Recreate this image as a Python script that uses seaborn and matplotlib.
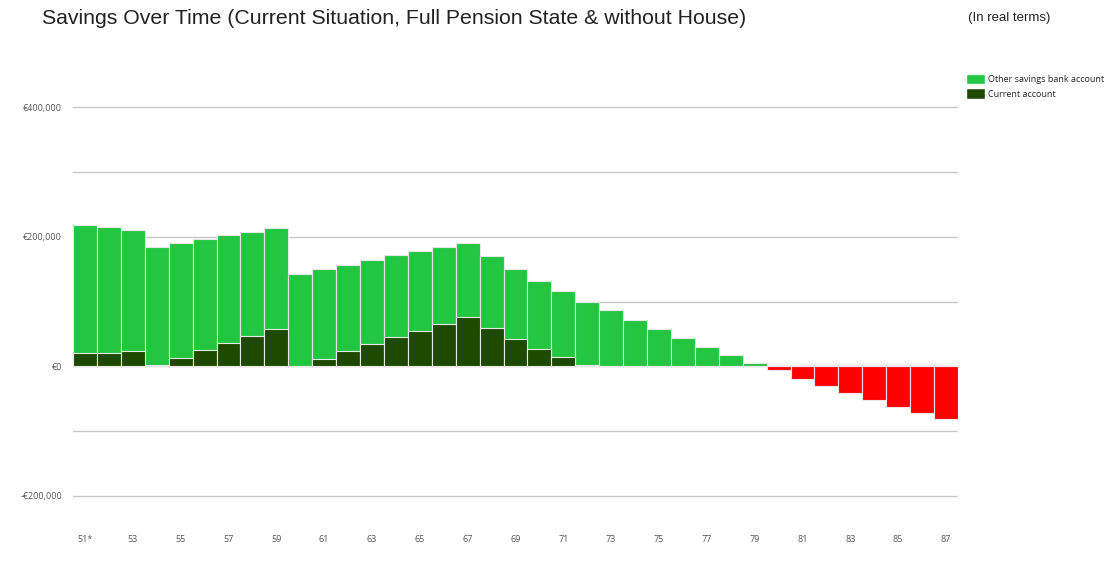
import matplotlib
matplotlib.use("Agg")
import matplotlib.pyplot as plt
import seaborn as sns
import pandas as pd
from matplotlib.patches import Patch

# ages shown on the x axis (51* = current age)
ages = list(range(51, 88))
age_labels = ["51*"] + [str(a) for a in ages[1:]]

# total savings per year (euro)
total_savings = [
    219000, 215000, 211000, 185000, 191000, 196000, 203000, 208000, 214000, 142500,
    150000, 157000, 164500, 172000, 178500, 184000, 191000, 171000, 150500, 132000,
    116000, 100000, 86500, 72000, 57500, 43000, 30000, 17000, 4500, -6500,
    -19000, -30000, -41000, -52000, -63000, -72500, -82000,
]
# current account part of the savings
current_account = [
    20000, 20000, 23000, 2000, 13000, 25000, 36000, 47000, 57500, 0,
    11500, 23000, 34500, 45000, 55000, 65000, 75500, 59000, 42000, 27000,
    14500, 2000, 0, 0, 0, 0, 0, 0, 0, 0,
    0, 0, 0, 0, 0, 0, 0,
]

df = pd.DataFrame({"age": age_labels, "total": total_savings, "current": current_account})
df["kind"] = ["pos" if v >= 0 else "neg" for v in df["total"]]

sns.set_style("white")
plt.rcParams["font.family"] = ["Open Sans", "DejaVu Sans"]

fig = plt.figure(figsize=(11.13, 5.74), dpi=100)
ax = fig.add_axes([0.0656, 0.0801, 0.7951, 0.7892])

light_green = "#22c640"
dark_green = "#1e4a00"
red = "#ff0000"

sns.barplot(data=df, x="age", y="total", hue="kind", order=age_labels,
            palette={"pos": light_green, "neg": red}, dodge=False, width=1.0,
            saturation=1, edgecolor="#e8e8e8", linewidth=0.8, legend=False,
            ax=ax, zorder=3)
sns.barplot(data=df, x="age", y="current", order=age_labels, color=dark_green,
            width=1.0, saturation=1, edgecolor="#e8e8e8", linewidth=0.8,
            ax=ax, zorder=4)

ax.set_ylim(-250000, 450000)
ax.set_xlim(-0.5, len(ages) - 0.5)
yticks = [-200000, -100000, 0, 100000, 200000, 300000, 400000]
ax.set_yticks(yticks)
ax.set_yticklabels(["-€200,000", "", "€0", "", "€200,000", "", "€400,000"])
ax.yaxis.grid(True, color="#c8c8c8", linewidth=1)
ax.set_axisbelow(True)
ax.set_xticks(range(0, len(ages), 2))
ax.set_xticklabels(age_labels[::2])
ax.tick_params(axis="both", length=0, labelsize=6.5, labelcolor="#555555")
ax.tick_params(axis="x", pad=5)
ax.tick_params(axis="y", pad=8)
ax.set_xlabel("")
ax.set_ylabel("")
for s in ax.spines.values():
    s.set_visible(False)

fig.text(42 / 1113, 1 - 19 / 574, "Savings Over Time (Current Situation, Full Pension State & without House)",
         fontsize=15.3, color="#222222", va="center", ha="left", family="Liberation Sans")
fig.text(968 / 1113, 1 - 18 / 574, "(In real terms)", fontsize=9.5, color="#222222",
         va="center", ha="left", family="Liberation Sans")

handles = [Patch(facecolor=light_green, label="Other savings bank account"),
           Patch(facecolor=dark_green, label="Current account")]
fig.legend(handles=handles, loc="upper left", bbox_to_anchor=(966 / 1113, 1 - 74 / 574),
           frameon=False, fontsize=6.5, handlelength=2.1, handleheight=1.4,
           handletextpad=0.35, labelspacing=0.45, borderaxespad=0, borderpad=0)

fig.savefig("out.png", dpi=100)
